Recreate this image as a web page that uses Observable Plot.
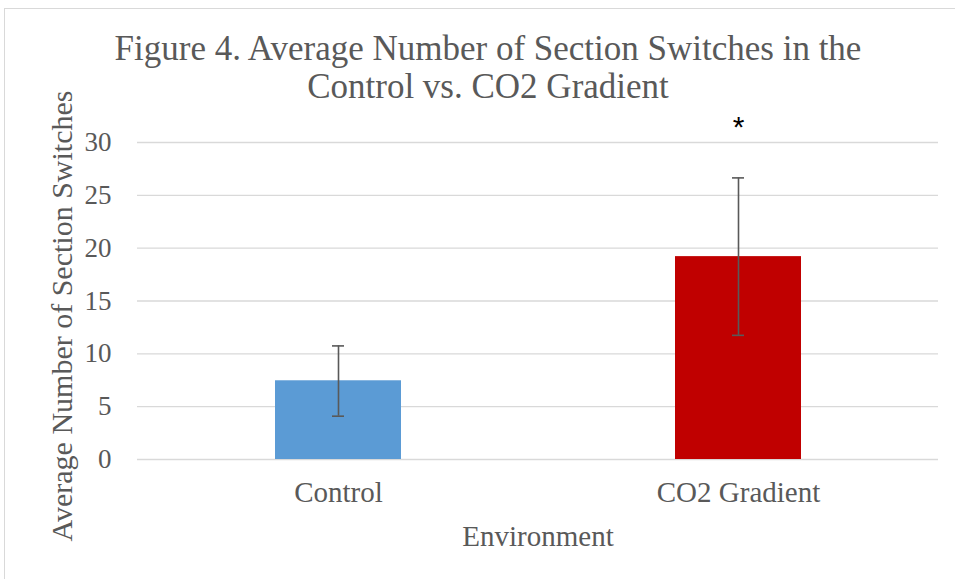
<!DOCTYPE html>
<html>
<head>
<meta charset="utf-8">
<script src="https://cdn.jsdelivr.net/npm/d3@7"></script>
<script src="https://cdn.jsdelivr.net/npm/@observablehq/plot@0.6"></script>
<style>
  html, body { margin: 0; padding: 0; background: #fff; }
  #wrap { position: relative; width: 955px; height: 579px; overflow: hidden; background: #fff; }
  #frame { position: absolute; left: 4px; top: 8px; width: 1000px; height: 700px; border: 1px solid #d9d9d9; box-sizing: border-box; }
  #title { position: absolute; left: 0; top: 30px; width: 976px; text-align: center; font-family: 'Liberation Serif', serif; font-size: 35px; line-height: 38px; color: #595959; }
  #chart { position: absolute; left: 0; top: 0; }
</style>
</head>
<body>
<div id="wrap">
  <div id="frame"></div>
  <div id="chart"></div>
  <div id="title">Figure 4. Average Number of Section Switches in the<br>Control vs. CO2 Gradient</div>
</div>
<script>
const categories = ["Control", "CO2 Gradient"];
const means = [7.45, 19.2];
const errLow = [4.1, 11.75];
const errHigh = [10.75, 26.65];
const barColors = ["#5b9bd5", "#c00000"];
const yTicks = [0, 5, 10, 15, 20, 25, 30];
const significance = ["", "*"];
const asteriskY = 31.4;
const yLabel = ["Average Number of Section Switches"];
const xLabel = "Environment";

const data = categories.map((c, i) => ({
  category: c, mean: means[i], lo: errLow[i], hi: errHigh[i], color: barColors[i], sig: significance[i]
}));

const font = "'Liberation Serif', serif";

const chart = Plot.plot({
  width: 955,
  height: 579,
  marginTop: 142,
  marginBottom: 120,
  marginLeft: 137,
  marginRight: 17,
  style: { fontFamily: font, color: "#595959", background: "transparent", overflow: "visible" },
  x: { domain: categories, paddingInner: 0.685, paddingOuter: 0.3425, align: 0.5 },
  y: { domain: [0, 30] },
  marks: [
    Plot.gridY(yTicks, { stroke: "#d9d9d9", strokeOpacity: 1, strokeWidth: 1.3 }),
    Plot.barY(data, { x: "category", y: "mean", fill: "color" }),
    Plot.ruleX(data, { x: "category", y1: "lo", y2: "hi", stroke: "#595959", strokeWidth: 1.6 }),
    Plot.tickY(data, { x: "category", y: "lo", stroke: "#595959", strokeWidth: 1.6, insetLeft: 57, insetRight: 57 }),
    Plot.tickY(data, { x: "category", y: "hi", stroke: "#595959", strokeWidth: 1.6, insetLeft: 57, insetRight: 57 }),
    Plot.text(data, { x: "category", y: () => asteriskY, text: "sig", fill: "#000", fontSize: 30, fontFamily: "'Liberation Sans', sans-serif" }),
    Plot.axisY(yTicks, { tickSize: 0, tickPadding: 26, fontSize: 27, fill: "#595959", label: null }),
    Plot.text(yLabel, { text: d => d, frameAnchor: "left", textAnchor: "middle", lineAnchor: "middle", rotate: -90, dx: -75, dy: 15, fontSize: 30, fill: "#595959", fontFamily: font }),
    Plot.axisX({ tickSize: 0, tickPadding: 22, fontSize: 29, fill: "#595959",
      label: xLabel, labelAnchor: "center", labelArrow: "none", labelOffset: 86 })
  ]
});
document.getElementById("chart").appendChild(chart);
</script>
</body>
</html>
